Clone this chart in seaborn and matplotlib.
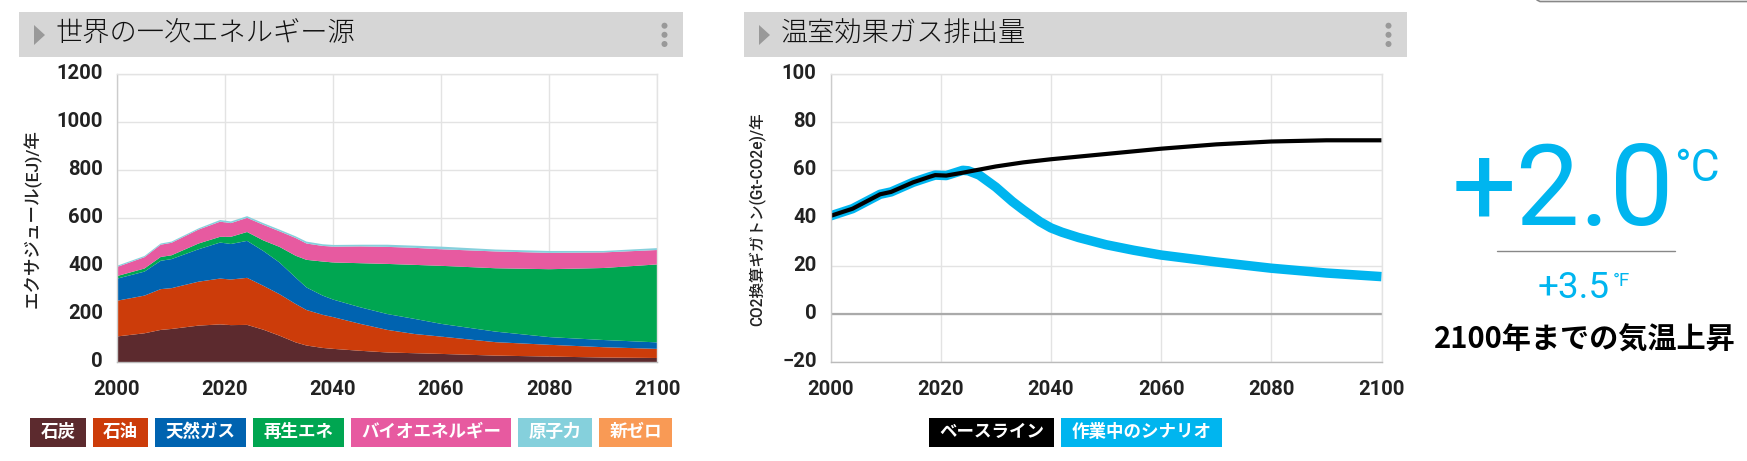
import matplotlib
matplotlib.use('Agg')
import matplotlib.pyplot as plt
import seaborn as sns
import pandas as pd
from matplotlib.patches import Rectangle, Polygon, Circle
from matplotlib.transforms import ScaledTranslation

NUM = ['Roboto', 'Noto Sans CJK JP', 'DejaVu Sans']
CJK = ['Noto Sans CJK JP', 'DejaVu Sans']

# energy chart, upper edge of each stacked band (EJ/yr)
energy_years = [2000, 2005, 2008, 2010, 2015, 2019, 2021, 2024, 2027, 2030, 2033,
                2035, 2038, 2040, 2045, 2050, 2055, 2060, 2070, 2080, 2090, 2100]
coal_top = [110, 123, 137, 141, 155, 160, 157, 158, 138, 113, 85,
            72, 62, 58, 50, 43, 40, 37, 30, 26, 22, 20]
oil_top = [259, 280, 307, 311, 338, 351, 347, 354, 321, 286, 245,
           220, 200, 190, 162, 137, 120, 109, 86, 75, 65, 58]
gas_top = [351, 380, 425, 432, 473, 501, 495, 508, 466, 418, 355,
           314, 280, 263, 231, 203, 183, 162, 130, 107, 95, 85]
renew_top = [362, 393, 441, 448, 497, 525, 525, 545, 510, 483, 446,
             429, 422, 418, 415, 412, 408, 404, 394, 390, 395, 410]
bio_top = [400, 440, 492, 500, 555, 588, 582, 604, 575, 548, 520,
           497, 487, 484, 485, 483, 479, 473, 464, 458, 460, 470]
nuclear_top = [405, 445, 497, 505, 560, 595, 589, 611, 582, 555, 527,
               505, 494, 491, 492, 492, 488, 484, 472, 466, 466, 478]

energy_labels = ['石炭', '石油', '天然ガス', '再生エネ', 'バイオエネルギー', '原子力', '新ゼロ']
energy_colors = ['#5c2a2e', '#cc3c0a', '#0063b0', '#00a651', '#e75aa0', '#85d0dc', '#f99a55']

# emissions chart (Gt-CO2e/yr)
baseline_years = [2000, 2004, 2007, 2009, 2011, 2015, 2018, 2019, 2021, 2024, 2027,
                  2030, 2035, 2040, 2050, 2060, 2070, 2080, 2090, 2100]
baseline = [41, 44, 47.6, 50, 51, 55, 57.3, 58, 57.8, 59, 60.3,
            61.6, 63.3, 64.6, 66.8, 69, 70.8, 72, 72.5, 72.5]
scenario_years = [2000, 2004, 2007, 2009, 2011, 2015, 2018, 2019, 2021, 2024, 2025, 2027,
                  2030, 2033, 2035, 2038, 2040, 2042, 2045, 2050, 2055, 2060, 2070, 2080, 2090, 2100]
scenario = [41, 44, 47.6, 50, 51, 55, 57.3, 58, 57.8, 60, 59.8, 58,
            53, 47, 43.5, 38.6, 36, 34.2, 32, 29, 26.7, 24.7, 21.8, 19.2, 17.2, 15.7]

x_ticks = [2000, 2020, 2040, 2060, 2080, 2100]
energy_y_ticks = [0, 200, 400, 600, 800, 1000, 1200]
emission_y_ticks = [-20, 0, 20, 40, 60, 80, 100]

sns.set_theme(style='whitegrid')
W, H = 1747, 461
fig = plt.figure(figsize=(W / 100, H / 100), dpi=100)


def box(left, top, right, bottom):
    return [left / W, 1 - bottom / H, (right - left) / W, (bottom - top) / H]


# page layer in pixel coordinates for the panel headers, chips and the readout
page = fig.add_axes([0, 0, 1, 1], zorder=0)
page.set_xlim(0, W)
page.set_ylim(H, 0)
page.axis('off')


def header(left, right, title):
    page.add_patch(Rectangle((left, 12), right - left, 45, fc='#d6d6d6', ec='none'))
    page.add_patch(Polygon([(left + 15, 25), (left + 26, 35), (left + 15, 45)], fc='#999999', ec='none'))
    page.text(left + 37, 33.5, title, family=CJK, fontsize=19.6, fontweight='light',
              color='#111111', va='center', ha='left')
    for dy in (25.7, 34.8, 44):
        page.add_patch(Circle((right - 18.5, dy), 3, fc='#999999', ec='none'))


def chip(left, right, label, color):
    page.add_patch(Rectangle((left, 418), right - left, 29, fc=color, ec='none'))
    page.text((left + right) / 2, 431.5, label, family=CJK, fontsize=12.6, fontweight='bold',
              color='white', ha='center', va='center')


def style_axes(ax, y_ticks):
    ax.set_xlim(2000, 2100)
    ax.set_xticks(x_ticks)
    ax.set_yticks(y_ticks)
    ax.grid(True, color='#e3e3e3', linewidth=1)
    ax.set_axisbelow(True)
    ax.set_xlabel('')
    for side in ('top', 'right'):
        ax.spines[side].set_color('#e3e3e3')
        ax.spines[side].set_linewidth(1)
    ax.spines['left'].set_color('#cccccc')
    ax.spines['left'].set_linewidth(1)
    ax.spines['bottom'].set_color('#bbbbbb')
    ax.spines['bottom'].set_linewidth(1)
    ax.tick_params(axis='both', length=7, width=1, color='#e0e0e0', pad=3,
                   labelsize=14.6, labelcolor='#222222')
    ax.tick_params(axis='x', pad=6)
    up = ScaledTranslation(0, 2 / 72, fig.dpi_scale_trans)
    for lab in ax.get_xticklabels() + ax.get_yticklabels():
        lab.set_family(NUM)
        lab.set_fontweight('bold')
    for lab in ax.get_yticklabels():
        lab.set_transform(lab.get_transform() + up)


header(19, 683, '世界の一次エネルギー源')
header(744, 1407, '温室効果ガス排出量')

# energy panel
ax1 = fig.add_axes(box(117, 74.3, 657, 362.3), zorder=1)
ax1.set_facecolor('none')
tops = [coal_top, oil_top, gas_top, renew_top, bio_top, nuclear_top]
lower = [0] * len(energy_years)
for top, color in zip(tops, energy_colors):
    ax1.fill_between(energy_years, lower, top, color=color, linewidth=0)
    lower = top
ax1.set_ylim(0, 1200)
style_axes(ax1, energy_y_ticks)
ax1.set_ylabel('')
page.text(32, 219, 'エクサジュール(EJ)/年', family=NUM, fontsize=12.6, fontweight='medium',
          color='#222222', rotation=90, ha='center', va='center')

# emissions panel
ax2 = fig.add_axes(box(830.5, 74.3, 1381.5, 362.3), zorder=1)
ax2.set_facecolor('none')
scen_df = pd.DataFrame({'year': scenario_years, 'value': scenario})
base_df = pd.DataFrame({'year': baseline_years, 'value': baseline})
sns.lineplot(data=scen_df, x='year', y='value', color='#00b5ef', linewidth=6.8, ax=ax2,
             solid_capstyle='butt', solid_joinstyle='round')
sns.lineplot(data=base_df, x='year', y='value', color='black', linewidth=3, ax=ax2,
             solid_capstyle='butt', solid_joinstyle='round')
ax2.axhline(0, color='#aaaaaa', linewidth=1.6, zorder=1.5)
ax2.set_ylim(-20, 100)
style_axes(ax2, emission_y_ticks)
ax2.set_ylabel('')
page.text(758, 219, 'CO2換算ギガトン(Gt-CO2e)/年', family=NUM, fontsize=11.2, fontweight='medium',
          color='#222222', rotation=90, ha='center', va='center')

# legend chips
chip_edges = [(30, 86), (93, 148), (155, 246), (253, 344), (351, 511), (518, 592), (599, 672)]
for (l, r), label, color in zip(chip_edges, energy_labels, energy_colors):
    chip(l, r, label, color)
chip(929, 1054, 'ベースライン', '#000000')
chip(1061, 1222, '作業中のシナリオ', '#00b5ef')

# temperature readout
BLUE = '#00b5ef'
page.text(1452, 225, '+2.0', family=NUM, fontsize=82, color=BLUE, ha='left', va='baseline')
page.text(1674, 181, '°C', family=NUM, fontsize=32, color=BLUE, ha='left', va='baseline')
page.plot([1497, 1675], [251.3, 251.3], color='#888888', linewidth=1)
page.text(1538, 298, '+3.5', family=NUM, fontsize=26.5, color=BLUE, ha='left', va='baseline')
page.text(1613, 286, '°F', family=NUM, fontsize=13.5, color=BLUE, ha='left', va='baseline')
page.text(1585, 340, '2100年までの気温上昇', family=CJK, fontsize=21, fontweight='bold',
          color='black', ha='center', va='center')

# edge of the box cut off at the top right of the screenshot
page.plot([1537, 1540, 1747], [0, 1.5, 1.5], color='#888888', linewidth=1.2)

fig.savefig('out.png', dpi=100)
